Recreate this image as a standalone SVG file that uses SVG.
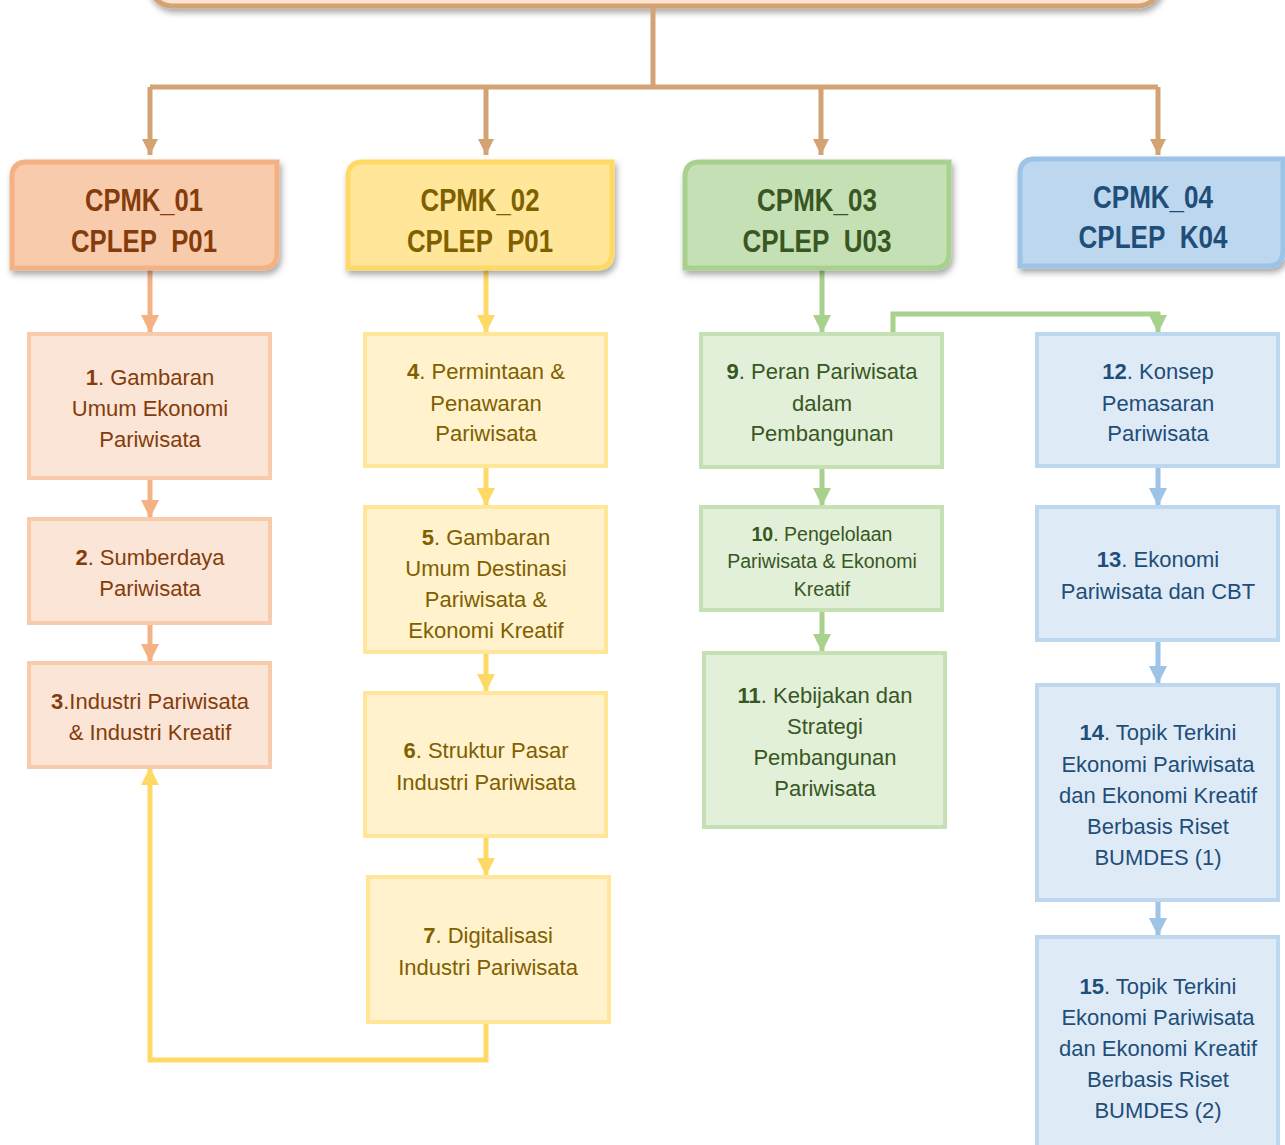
<svg xmlns="http://www.w3.org/2000/svg" width="1285" height="1145" viewBox="0 0 1285 1145">
<defs>
<filter id="sh" x="-10%" y="-20%" width="120%" height="150%">
<feDropShadow dx="2" dy="4" stdDeviation="3" flood-color="#000" flood-opacity="0.35"/>
</filter>
<marker id="aT" viewBox="0 0 16 16" markerWidth="16" markerHeight="16" refX="16" refY="8" orient="auto" markerUnits="userSpaceOnUse"><path d="M0,0 L16,8 L0,16 Z" fill="#d4a373"/></marker>
<marker id="aO" viewBox="0 0 16 16" markerWidth="18" markerHeight="18" refX="16" refY="8" orient="auto" markerUnits="userSpaceOnUse"><path d="M0,0 L16,8 L0,16 Z" fill="#f4b183"/></marker>
<marker id="aY" viewBox="0 0 16 16" markerWidth="18" markerHeight="18" refX="16" refY="8" orient="auto" markerUnits="userSpaceOnUse"><path d="M0,0 L16,8 L0,16 Z" fill="#ffd966"/></marker>
<marker id="aG" viewBox="0 0 16 16" markerWidth="18" markerHeight="18" refX="16" refY="8" orient="auto" markerUnits="userSpaceOnUse"><path d="M0,0 L16,8 L0,16 Z" fill="#a9d18e"/></marker>
<marker id="aB" viewBox="0 0 16 16" markerWidth="18" markerHeight="18" refX="16" refY="8" orient="auto" markerUnits="userSpaceOnUse"><path d="M0,0 L16,8 L0,16 Z" fill="#9dc3e6"/></marker>
</defs>
<style>
text{font-family:"Liberation Sans",Arial,sans-serif;text-anchor:middle}
.h{font-size:31px;font-weight:bold}
.b{font-size:22px}
.s{font-size:19.5px}
.n{font-weight:bold}
.c1{fill:#843c0c}.c2{fill:#7f6000}.c3{fill:#385723}.c4{fill:#1f4e79}
.hb{stroke-width:5;filter:url(#sh)}
.bx{stroke-width:4}
.o{fill:#fbe5d6;stroke:#f8cbad}
.y{fill:#fff2cc;stroke:#ffe699}
.g{fill:#e2f0d9;stroke:#c5e0b4}
.u{fill:#deebf7;stroke:#bdd7ee}
.ln{fill:none;stroke-width:5}
</style>

<g id="top">
<rect x="150" y="-60" width="1010" height="66" rx="22" fill="#fce4d0" stroke="#d4a373" stroke-width="5" filter="url(#sh)"/>
</g>

<g id="connectors">
<path class="ln" d="M653,8 V87" stroke="#d4a373" stroke-width="4"/>
<path class="ln" d="M150,87 H1158" stroke="#d4a373" stroke-width="5"/>
<path class="ln" d="M150,87 V155" stroke="#d4a373" stroke-width="3.5" marker-end="url(#aT)"/>
<path class="ln" d="M486,87 V155" stroke="#d4a373" stroke-width="3.5" marker-end="url(#aT)"/>
<path class="ln" d="M821,87 V155" stroke="#d4a373" stroke-width="3.5" marker-end="url(#aT)"/>
<path class="ln" d="M1158,87 V155" stroke="#d4a373" stroke-width="3.5" marker-end="url(#aT)"/>

<path class="ln" d="M150,270 V333" stroke="#f4b183" marker-end="url(#aO)"/>
<path class="ln" d="M150,478 V518" stroke="#f4b183" marker-end="url(#aO)"/>
<path class="ln" d="M150,623 V662" stroke="#f4b183" marker-end="url(#aO)"/>

<path class="ln" d="M486,270 V333" stroke="#ffd966" marker-end="url(#aY)"/>
<path class="ln" d="M486,466 V506" stroke="#ffd966" marker-end="url(#aY)"/>
<path class="ln" d="M486,652 V692" stroke="#ffd966" marker-end="url(#aY)"/>
<path class="ln" d="M486,836 V876" stroke="#ffd966" marker-end="url(#aY)"/>
<path class="ln" d="M486,1022 V1060 H150 V767" stroke="#ffd966" marker-end="url(#aY)"/>

<path class="ln" d="M822,270 V333" stroke="#a9d18e" marker-end="url(#aG)"/>
<path class="ln" d="M822,467 V506" stroke="#a9d18e" marker-end="url(#aG)"/>
<path class="ln" d="M822,610 V652" stroke="#a9d18e" marker-end="url(#aG)"/>
<path class="ln" d="M893,333 V314 H1158 V333" stroke="#a9d18e" marker-end="url(#aG)"/>

<path class="ln" d="M1158,466 V506" stroke="#9dc3e6" marker-end="url(#aB)"/>
<path class="ln" d="M1158,640 V684" stroke="#9dc3e6" marker-end="url(#aB)"/>
<path class="ln" d="M1158,900 V936" stroke="#9dc3e6" marker-end="url(#aB)"/>
</g>

<g id="cpmk01">
<path class="hb" d="M12,177 Q12,162 27,162 H277 V253 Q277,268 262,268 H12 Z" fill="#f8cbad" stroke="#f4b183"/>
<text class="h c1" x="144" y="211" textLength="118" lengthAdjust="spacingAndGlyphs">CPMK_01</text>
<text class="h c1" x="144" y="252" textLength="146" lengthAdjust="spacingAndGlyphs">CPLEP&#160; P01</text>
</g>
<g id="cpmk02">
<path class="hb" d="M348,177 Q348,162 363,162 H612 V253 Q612,268 597,268 H348 Z" fill="#ffe699" stroke="#ffd966"/>
<text class="h c2" x="480" y="211" textLength="119" lengthAdjust="spacingAndGlyphs">CPMK_02</text>
<text class="h c2" x="480" y="252" textLength="146" lengthAdjust="spacingAndGlyphs">CPLEP&#160; P01</text>
</g>
<g id="cpmk03">
<path class="hb" d="M685,177 Q685,162 700,162 H949 V253 Q949,268 934,268 H685 Z" fill="#c5e0b4" stroke="#a9d18e"/>
<text class="h c3" x="817" y="211" textLength="120" lengthAdjust="spacingAndGlyphs">CPMK_03</text>
<text class="h c3" x="817" y="252" textLength="149" lengthAdjust="spacingAndGlyphs">CPLEP&#160; U03</text>
</g>
<g id="cpmk04">
<path class="hb" d="M1020,174 Q1020,159 1035,159 H1283 V251 Q1283,266 1268,266 H1020 Z" fill="#bdd7ee" stroke="#9dc3e6"/>
<text class="h c4" x="1153" y="208" textLength="120" lengthAdjust="spacingAndGlyphs">CPMK_04</text>
<text class="h c4" x="1153" y="248" textLength="149" lengthAdjust="spacingAndGlyphs">CPLEP&#160; K04</text>
</g>

<g id="n1"><rect class="bx o" x="29" y="334" width="241" height="144"/>
<text class="b c1" x="150" y="385"><tspan class="n">1</tspan>. Gambaran</text>
<text class="b c1" x="150" y="416">Umum Ekonomi</text>
<text class="b c1" x="150" y="447">Pariwisata</text></g>
<g id="n2"><rect class="bx o" x="29" y="519" width="241" height="104"/>
<text class="b c1" x="150" y="565"><tspan class="n">2</tspan>. Sumberdaya</text>
<text class="b c1" x="150" y="596">Pariwisata</text></g>
<g id="n3"><rect class="bx o" x="29" y="663" width="241" height="104"/>
<text class="b c1" x="150" y="709"><tspan class="n">3</tspan>.Industri Pariwisata</text>
<text class="b c1" x="150" y="740">&amp; Industri Kreatif</text></g>

<g id="n4"><rect class="bx y" x="365" y="334" width="241" height="132"/>
<text class="b c2" x="486" y="379"><tspan class="n">4</tspan>. Permintaan &amp;</text>
<text class="b c2" x="486" y="411">Penawaran</text>
<text class="b c2" x="486" y="441">Pariwisata</text></g>
<g id="n5"><rect class="bx y" x="365" y="507" width="241" height="145"/>
<text class="b c2" x="486" y="545"><tspan class="n">5</tspan>. Gambaran</text>
<text class="b c2" x="486" y="576">Umum Destinasi</text>
<text class="b c2" x="486" y="607">Pariwisata &amp;</text>
<text class="b c2" x="486" y="638">Ekonomi Kreatif</text></g>
<g id="n6"><rect class="bx y" x="365" y="693" width="241" height="143"/>
<text class="b c2" x="486" y="758"><tspan class="n">6</tspan>. Struktur Pasar</text>
<text class="b c2" x="486" y="790">Industri Pariwisata</text></g>
<g id="n7"><rect class="bx y" x="368" y="877" width="241" height="145"/>
<text class="b c2" x="488" y="943"><tspan class="n">7</tspan>. Digitalisasi</text>
<text class="b c2" x="488" y="975">Industri Pariwisata</text></g>

<g id="n9"><rect class="bx g" x="701" y="334" width="241" height="133"/>
<text class="b c3" x="822" y="379"><tspan class="n">9</tspan>. Peran Pariwisata</text>
<text class="b c3" x="822" y="411">dalam</text>
<text class="b c3" x="822" y="441">Pembangunan</text></g>
<g id="n10"><rect class="bx g" x="701" y="507" width="241" height="103"/>
<text class="s c3" x="822" y="541"><tspan class="n">10</tspan>. Pengelolaan</text>
<text class="s c3" x="822" y="568">Pariwisata &amp; Ekonomi</text>
<text class="s c3" x="822" y="596">Kreatif</text></g>
<g id="n11"><rect class="bx g" x="704" y="653" width="241" height="174"/>
<text class="b c3" x="825" y="703"><tspan class="n">11</tspan>. Kebijakan dan</text>
<text class="b c3" x="825" y="734">Strategi</text>
<text class="b c3" x="825" y="765">Pembangunan</text>
<text class="b c3" x="825" y="796">Pariwisata</text></g>

<g id="n12"><rect class="bx u" x="1037" y="334" width="241" height="132"/>
<text class="b c4" x="1158" y="379"><tspan class="n">12</tspan>. Konsep</text>
<text class="b c4" x="1158" y="411">Pemasaran</text>
<text class="b c4" x="1158" y="441">Pariwisata</text></g>
<g id="n13"><rect class="bx u" x="1037" y="507" width="241" height="133"/>
<text class="b c4" x="1158" y="567"><tspan class="n">13</tspan>. Ekonomi</text>
<text class="b c4" x="1158" y="599">Pariwisata dan CBT</text></g>
<g id="n14"><rect class="bx u" x="1037" y="685" width="241" height="215"/>
<text class="b c4" x="1158" y="740"><tspan class="n">14</tspan>. Topik Terkini</text>
<text class="b c4" x="1158" y="772">Ekonomi Pariwisata</text>
<text class="b c4" x="1158" y="803">dan Ekonomi Kreatif</text>
<text class="b c4" x="1158" y="834">Berbasis Riset</text>
<text class="b c4" x="1158" y="865">BUMDES (1)</text></g>
<g id="n15"><rect class="bx u" x="1037" y="937" width="241" height="220"/>
<text class="b c4" x="1158" y="994"><tspan class="n">15</tspan>. Topik Terkini</text>
<text class="b c4" x="1158" y="1025">Ekonomi Pariwisata</text>
<text class="b c4" x="1158" y="1056">dan Ekonomi Kreatif</text>
<text class="b c4" x="1158" y="1087">Berbasis Riset</text>
<text class="b c4" x="1158" y="1118">BUMDES (2)</text></g>
</svg>
